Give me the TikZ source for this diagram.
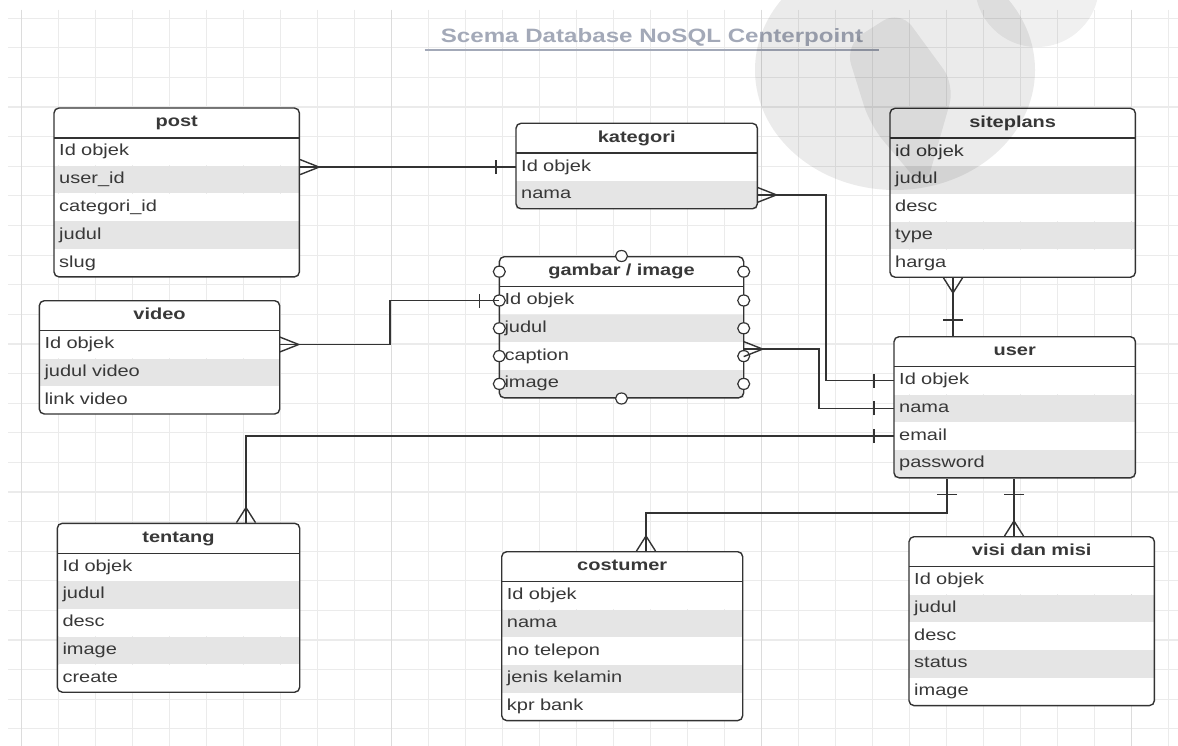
\documentclass[tikz,border=0pt]{standalone}
\usepackage{fontspec}
\setmainfont{Liberation Sans}[FakeStretch=1.25]
\usetikzlibrary{positioning,fit,shapes.geometric,decorations.markings}

\definecolor{linecol}{HTML}{333333}
\definecolor{rowgray}{HTML}{E5E5E5}
\definecolor{gridcol}{HTML}{EBEBEB}
\definecolor{gridmajor}{HTML}{DCDCDC}
\definecolor{titlecol}{HTML}{A3A9B8}
\definecolor{textcol}{HTML}{383838}

\begin{document}
\begin{tikzpicture}[x=1pt, y=-1pt,
        gridline/.style={draw=gridcol, line width=1.2pt},
        gridmaj/.style={draw=gridmajor, line width=1.2pt},
        heading/.style={font=\fontsize{19.3}{23}\selectfont\bfseries, text=titlecol, inner xsep=16pt, inner ysep=3pt, text height=13.5pt, text depth=4pt, anchor=south},
        headline/.style={draw=titlecol, line width=2pt},
        head/.style={anchor=north west, fill=white, font=\fontsize{16}{19}\selectfont\bfseries, text=textcol, align=center, inner xsep=5pt, inner ysep=0pt, minimum height=29.5pt, text height=11.5pt, text depth=3.5pt},
        row/.style={fill=white, font=\fontsize{16}{19}\selectfont, text=textcol, align=left, inner xsep=5pt, inner ysep=0pt, minimum height=27.4pt, text height=11.5pt, text depth=3.5pt},
        tblframe/.style={draw=linecol, line width=1.4pt, rounded corners=5pt, inner sep=0pt},
        sepline/.style={draw=linecol, line width=1.4pt},
        handle/.style={ellipse, draw=linecol, line width=1.2pt, fill=white, minimum width=12pt, minimum height=11pt, inner sep=0pt},
        conn/.style={draw=linecol, line width=1.4pt},
        many h/.style={postaction={decorate, decoration={markings, mark=at position 0pt with {\draw[conn] (0pt,7.5pt) -- (19pt,0pt) -- (0pt,-7.5pt);}}}},
        many v/.style={postaction={decorate, decoration={markings, mark=at position 0pt with {\draw[conn] (0pt,9.5pt) -- (15pt,0pt) -- (0pt,-9.5pt);}}}},
        one h/.style={postaction={decorate, decoration={markings, mark=at position -20pt with {\draw[conn] (0pt,-7pt) -- (0pt,7pt);}}}},
        one v/.style={postaction={decorate, decoration={markings, mark=at position -16pt with {\draw[conn] (0pt,-10pt) -- (0pt,10pt);}}}},
    ]
        \useasboundingbox (0,0) rectangle (1178,746);
        \fill[white] (0,0) rectangle (1178,746);

        %Grid
        \foreach \k in {0,...,31}
            \draw[gridline] ({21.7+37*\k},10) -- ({21.7+37*\k},746);
        \foreach \k in {0,...,24}
            \draw[gridline] (8,{18.3+29.6*\k}) -- (1178,{18.3+29.6*\k});
        \foreach \k in {0,10,20,30}
            \draw[gridmaj] ({21.7+37*\k},10) -- ({21.7+37*\k},746);

        %Title
        \node[heading] (title) at (652,50) {Scema Database NoSQL Centerpoint};
        \draw[headline] (title.south west) -- (title.south east);

        %Nodes
        % post
        \node[head, text width=235pt] (post-0) at (54,108) {post};
        \foreach \t/\f [count=\i] in {Id objek/white, user\_id/rowgray, categori\_id/white, judul/rowgray, slug/white}{
            \pgfmathtruncatemacro{\j}{\i-1}
            \node[row, text width=235pt, fill=\f, below=0pt of post-\j] (post-\i) {\t};
        }
        \node[tblframe, fit=(post-0)(post-5)] (post) {};
        \draw[sepline] (post-0.south west) -- (post-0.south east);

        % kategori
        \node[head, text width=231pt] (kategori-0) at (516,123.3) {kategori};
        \foreach \t/\f [count=\i] in {Id objek/white, nama/rowgray}{
            \pgfmathtruncatemacro{\j}{\i-1}
            \node[row, text width=231pt, fill=\f, below=0pt of kategori-\j] (kategori-\i) {\t};
        }
        \node[tblframe, fit=(kategori-0)(kategori-2)] (kategori) {};
        \draw[sepline] (kategori-0.south west) -- (kategori-0.south east);

        % siteplans
        \node[head, text width=235pt] (siteplans-0) at (890,108.3) {siteplans};
        \foreach \t/\f [count=\i] in {id objek/white, judul/rowgray, desc/white, type/rowgray, harga/white}{
            \pgfmathtruncatemacro{\j}{\i-1}
            \node[row, text width=235pt, fill=\f, below=0pt of siteplans-\j] (siteplans-\i) {\t};
        }
        \node[tblframe, fit=(siteplans-0)(siteplans-5)] (siteplans) {};
        \draw[sepline] (siteplans-0.south west) -- (siteplans-0.south east);

        % gambar / image
        \node[head, text width=234pt] (gambar-0) at (499.3,256.7) {gambar / image};
        \foreach \t/\f [count=\i] in {Id objek/white, judul/rowgray, caption/white, image/rowgray}{
            \pgfmathtruncatemacro{\j}{\i-1}
            \node[row, text width=234pt, fill=\f, below=0pt of gambar-\j] (gambar-\i) {\t};
        }
        \node[tblframe, fit=(gambar-0)(gambar-4)] (gambar) {};
        \draw[sepline] (gambar-0.south west) -- (gambar-0.south east);
        \foreach \k in {0,...,4}{
            \node[handle] (hl-\k) at (gambar-\k.west) {};
            \node[handle] (hr-\k) at (gambar-\k.east) {};
        }
        \node[handle] (ht) at (gambar.north) {};
        \node[handle] (hb) at (gambar.south) {};

        % video
        \node[head, text width=230pt] (video-0) at (39.3,300.7) {video};
        \foreach \t/\f [count=\i] in {Id objek/white, judul video/rowgray, link video/white}{
            \pgfmathtruncatemacro{\j}{\i-1}
            \node[row, text width=230pt, fill=\f, below=0pt of video-\j] (video-\i) {\t};
        }
        \node[tblframe, fit=(video-0)(video-3)] (video) {};
        \draw[sepline] (video-0.south west) -- (video-0.south east);

        % user
        \node[head, text width=231pt] (user-0) at (894,336.7) {user};
        \foreach \t/\f [count=\i] in {Id objek/white, nama/rowgray, email/white, password/rowgray}{
            \pgfmathtruncatemacro{\j}{\i-1}
            \node[row, text width=231pt, fill=\f, below=0pt of user-\j] (user-\i) {\t};
        }
        \node[tblframe, fit=(user-0)(user-4)] (user) {};
        \draw[sepline] (user-0.south west) -- (user-0.south east);

        % tentang
        \node[head, text width=232pt] (tentang-0) at (57.3,523.3) {tentang};
        \foreach \t/\f [count=\i] in {Id objek/white, judul/rowgray, desc/white, image/rowgray, create/white}{
            \pgfmathtruncatemacro{\j}{\i-1}
            \node[row, text width=232pt, fill=\f, below=0pt of tentang-\j] (tentang-\i) {\t};
        }
        \node[tblframe, fit=(tentang-0)(tentang-5)] (tentang) {};
        \draw[sepline] (tentang-0.south west) -- (tentang-0.south east);

        % costumer
        \node[head, text width=230.6pt] (costumer-0) at (501.7,551.7) {costumer};
        \foreach \t/\f [count=\i] in {Id objek/white, nama/rowgray, no telepon/white, jenis kelamin/rowgray, kpr bank/white}{
            \pgfmathtruncatemacro{\j}{\i-1}
            \node[row, text width=230.6pt, fill=\f, below=0pt of costumer-\j] (costumer-\i) {\t};
        }
        \node[tblframe, fit=(costumer-0)(costumer-5)] (costumer) {};
        \draw[sepline] (costumer-0.south west) -- (costumer-0.south east);

        % visi dan misi
        \node[head, text width=235pt] (visi-0) at (909,536.7) {visi dan misi};
        \foreach \t/\f [count=\i] in {Id objek/white, judul/rowgray, desc/white, status/rowgray, image/white}{
            \pgfmathtruncatemacro{\j}{\i-1}
            \node[row, text width=235pt, fill=\f, below=0pt of visi-\j] (visi-\i) {\t};
        }
        \node[tblframe, fit=(visi-0)(visi-5)] (visi) {};
        \draw[sepline] (visi-0.south west) -- (visi-0.south east);

        %Lines
        \coordinate (kbend) at (826,0);
        \coordinate (gbend) at (819,0);
        \coordinate (vbend) at (390,0);
        \coordinate (tdrop) at (246,0);
        \coordinate (cdrop) at (646,0);
        \coordinate (cbend) at (947,513);
        \coordinate (vdrop) at (1014,0);
        \coordinate (sdrop) at (953,0);

        \draw[conn, many h, one h] (post.east |- kategori-1) -- (kategori-1.west);
        \draw[conn, many h, one h] (kategori-2.east) -| (kbend |- user-1) -- (user-1.west);
        \draw[conn, many h, one h] ([yshift=7pt]gambar-3.east) -| (gbend |- user-2) -- (user-2.west);
        \draw[conn, many h, one h] (video-1.east) -| (vbend |- gambar-1) -- (gambar-1.west);
        \draw[conn, many v, one h] (tdrop |- tentang.north) |- (user-3.west);
        \draw[conn, many v, one v] (cdrop |- costumer.north) |- (cbend) -- (cbend |- user.south);
        \draw[conn, many v, one v] (vdrop |- visi.north) -- (vdrop |- user.south);
        \draw[conn, many v, one v] (sdrop |- siteplans.south) -- (sdrop |- user.north);

        %Watermark
        \fill[black, opacity=.08] (895,70) ellipse [x radius=140pt, y radius=120pt];
        \fill[black, opacity=.07, rounded corners=20pt] (845,45) -- (900,10) -- (955,85) -- (925,190) -- (870,125) -- cycle;
        \fill[black, opacity=.06] (1037,-15) circle [radius=62pt];
    \end{tikzpicture}
\end{document}
